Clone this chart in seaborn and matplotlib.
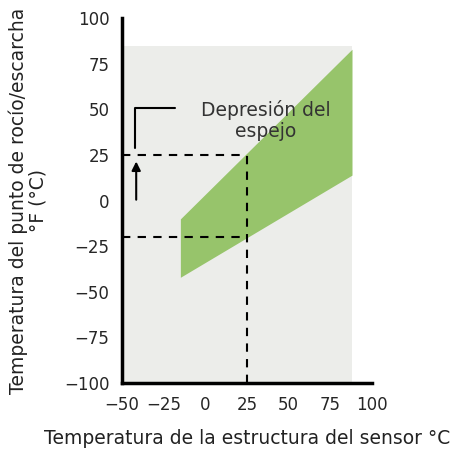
import matplotlib
matplotlib.use("Agg")
import matplotlib.pyplot as plt
import seaborn as sns

# data
band_x = [-15, 88]
band_low = [-42, 14]
band_high = [-10, 83]
bg_x = [-50, 88]
bg_top = 85
ref_x = 25
ref_high = 25
ref_low = -20
x_ticks = [-50, -25, 0, 25, 50, 75, 100]
y_ticks = [-100, -75, -50, -25, 0, 25, 50, 75, 100]

sns.set_style("white")
plt.rcParams['font.family'] = ['DejaVu Sans']

fig = plt.figure(figsize=(4.52, 4.55), dpi=100)
ax = fig.add_axes([0.27, 0.158, 0.553, 0.802])

# grey operating area and green band
ax.fill_between(bg_x, [-100, -100], [bg_top, bg_top], color="#ecedea", lw=0, zorder=0)
ax.fill_between(band_x, band_low, band_high, color="#97c46b", lw=0, zorder=1)

# dashed reference lines
dash = dict(color="black", linestyle=(0, (4, 3.5)), linewidth=1.5, zorder=2)
ax.plot([-50, ref_x], [ref_high, ref_high], **dash)
ax.plot([-50, ref_x], [ref_low, ref_low], **dash)
ax.plot([ref_x, ref_x], [-100, ref_high], **dash)

# arrow and bracket
ax.annotate("", xy=(-41.5, 23), xytext=(-41.5, -1),
            arrowprops=dict(arrowstyle="-|>", color="black", lw=1.5, mutation_scale=13))
ax.plot([-42, -42, -18], [29, 51, 51], color="black", lw=1.5)
ax.text(36, 44, "Depresión del\nespejo", ha="center", va="center", fontsize=13.5,
        color="#333333", linespacing=1.1)

ax.set_xlim(-50, 100)
ax.set_ylim(-100, 100)
ax.set_xticks(x_ticks)
ax.set_yticks(y_ticks)
ax.set_xticklabels([str(t).replace("-", "\u2212") for t in x_ticks], fontsize=12)
ax.set_yticklabels([str(t).replace("-", "\u2212") for t in y_ticks], fontsize=12)
ax.tick_params(axis="both", direction="out", length=6, width=3, color="black", pad=3)

sns.despine(ax=ax)
for s in ["left", "bottom"]:
    ax.spines[s].set_linewidth(2.5)
    ax.spines[s].set_color("black")

ax.set_xlabel("Temperatura de la estructura del sensor °C", fontsize=13.5, labelpad=11, color="#222222")
ax.set_ylabel("Temperatura del punto de rocío/escarcha\n°F (°C)", fontsize=13.5, labelpad=12,
              color="#222222", linespacing=1.0)

fig.savefig("out.png", dpi=100)
